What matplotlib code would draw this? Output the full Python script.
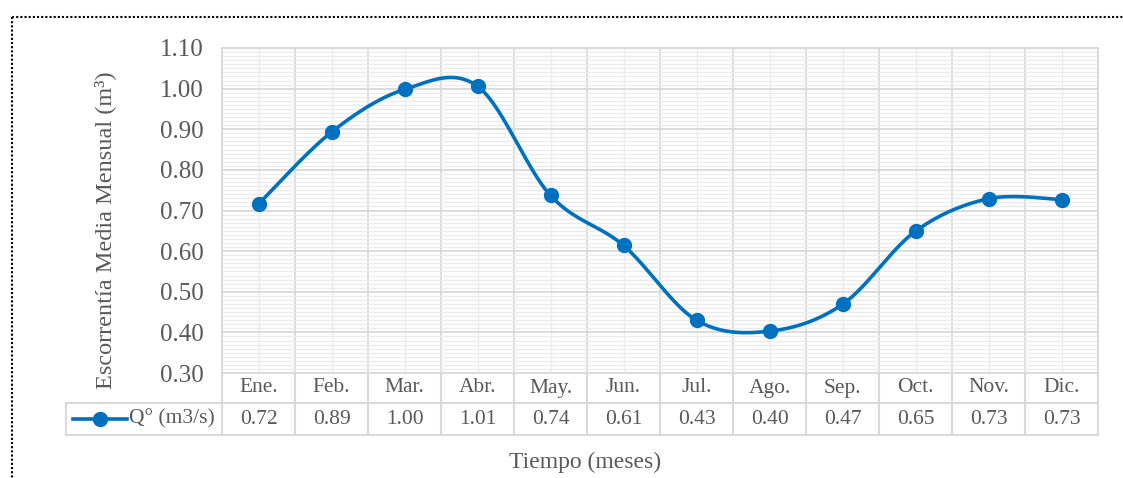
import numpy as np
import matplotlib
matplotlib.use("Agg")
import matplotlib.pyplot as plt
from matplotlib.lines import Line2D
from matplotlib.ticker import MultipleLocator

months = ['Ene.', 'Feb.', 'Mar.', 'Abr.', 'May.', 'Jun.', 'Jul.', 'Ago.', 'Sep.', 'Oct.', 'Nov.', 'Dic.']
caudal = [0.716, 0.893, 0.998, 1.006, 0.737, 0.614, 0.430, 0.403, 0.469, 0.649, 0.729, 0.727]
serie = 'Q° (m3/s)'

plt.rcParams['font.family'] = ['Liberation Serif', 'DejaVu Serif']
txt = '#595959'
grid_major = '#d9d9d9'
grid_minor = '#ececec'
blue = '#0070C0'

W, H = 1123, 478
fig = plt.figure(figsize=(W / 100, H / 100), dpi=100)
ax = fig.add_axes([222 / W, 1 - 373 / H, 876 / W, 325 / H])

n = len(months)
x = np.arange(n)
y = np.array(caudal)


# smooth line like excel (catmull-rom -> bezier)
def smooth(xs, ys, steps=40):
    px, py = [], []
    for i in range(len(xs) - 1):
        x0, y0 = xs[max(i - 1, 0)], ys[max(i - 1, 0)]
        x1, y1 = xs[i], ys[i]
        x2, y2 = xs[i + 1], ys[i + 1]
        x3, y3 = xs[min(i + 2, len(xs) - 1)], ys[min(i + 2, len(xs) - 1)]
        c1x, c1y = x1 + (x2 - x0) / 6, y1 + (y2 - y0) / 6
        c2x, c2y = x2 - (x3 - x1) / 6, y2 - (y3 - y1) / 6
        t = np.linspace(0, 1, steps)
        bx = (1 - t) ** 3 * x1 + 3 * (1 - t) ** 2 * t * c1x + 3 * (1 - t) * t ** 2 * c2x + t ** 3 * x2
        by = (1 - t) ** 3 * y1 + 3 * (1 - t) ** 2 * t * c1y + 3 * (1 - t) * t ** 2 * c2y + t ** 3 * y2
        px.extend(bx)
        py.extend(by)
    return np.array(px), np.array(py)


sx, sy = smooth(x, y)
ax.plot(sx, sy, color=blue, lw=2.6, zorder=3, solid_capstyle='round')
ax.plot(x, y, 'o', color=blue, ms=10, zorder=4)

ax.set_xlim(-0.5, n - 0.5)
ax.set_ylim(0.30, 1.10)
ax.yaxis.set_major_locator(MultipleLocator(0.10))
ax.yaxis.set_minor_locator(MultipleLocator(0.01))
ax.yaxis.set_major_formatter(lambda v, p: f'{v:.2f}')
ax.set_xticks(np.arange(n + 1) - 0.5)
ax.set_xticks(x, minor=True)
ax.set_xticklabels([])
ax.tick_params(axis='both', which='both', length=0)
ax.tick_params(axis='y', labelsize=18, labelcolor=txt, pad=13)

ax.grid(True, which='major', color=grid_major, lw=1.3)
ax.grid(True, which='minor', color=grid_minor, lw=1.0)
ax.set_axisbelow(True)
for s in ax.spines.values():
    s.set_color(grid_major)
    s.set_linewidth(1.3)

ax.set_ylabel('Escorrentía Media Mensual (m³)', fontsize=17.5, color=txt)
ax.yaxis.set_label_coords(-0.121, 0.44)

# data table under the plot
tr = ax.get_xaxis_transform()
r1 = -30 / 325
r2 = -62 / 325
left = -0.5 - 156 / 73
lk = dict(color=grid_major, lw=1.5, clip_on=False, transform=tr)
for b in np.arange(n + 1) - 0.5:
    ax.add_line(Line2D([b, b], [0, r2], **lk))
ax.add_line(Line2D([left, n - 0.5], [r1, r1], **lk))
ax.add_line(Line2D([left, n - 0.5], [r2, r2], **lk))
ax.add_line(Line2D([left, left], [r1, r2], **lk))

for i, (m, v) in enumerate(zip(months, caudal)):
    ax.text(i, r1 / 2, m, transform=tr, ha='center', va='center', fontsize=15.5, color=txt)
    ax.text(i, (r1 + r2) / 2, f'{v:.2f}', transform=tr, ha='center', va='center', fontsize=15.5, color=txt)

# legend key in table
ky = (r1 + r2) / 2
ax.add_line(Line2D([left + 0.1, left + 0.84], [ky, ky], color=blue, lw=2.6, clip_on=False, transform=tr))
ax.add_line(Line2D([left + 0.47], [ky], marker='o', color=blue, ms=10, clip_on=False, transform=tr))
ax.text(-0.5 - 0.1, ky, serie, transform=tr, ha='right', va='center', fontsize=15.5, color=txt)

fig.text(585 / W, 1 - 462 / H, 'Tiempo (meses)', ha='center', va='center', fontsize=17, color=txt)

# dotted chart border
bk = dict(color='black', lw=1.5, ls=(0, (1, 1)), transform=fig.transFigure)
fig.add_artist(Line2D([12 / W, 1.01], [1 - 17 / H, 1 - 17 / H], **bk))
fig.add_artist(Line2D([12 / W, 12 / W], [1 - 17 / H, -0.01], **bk))

fig.savefig('out.png', dpi=100)
